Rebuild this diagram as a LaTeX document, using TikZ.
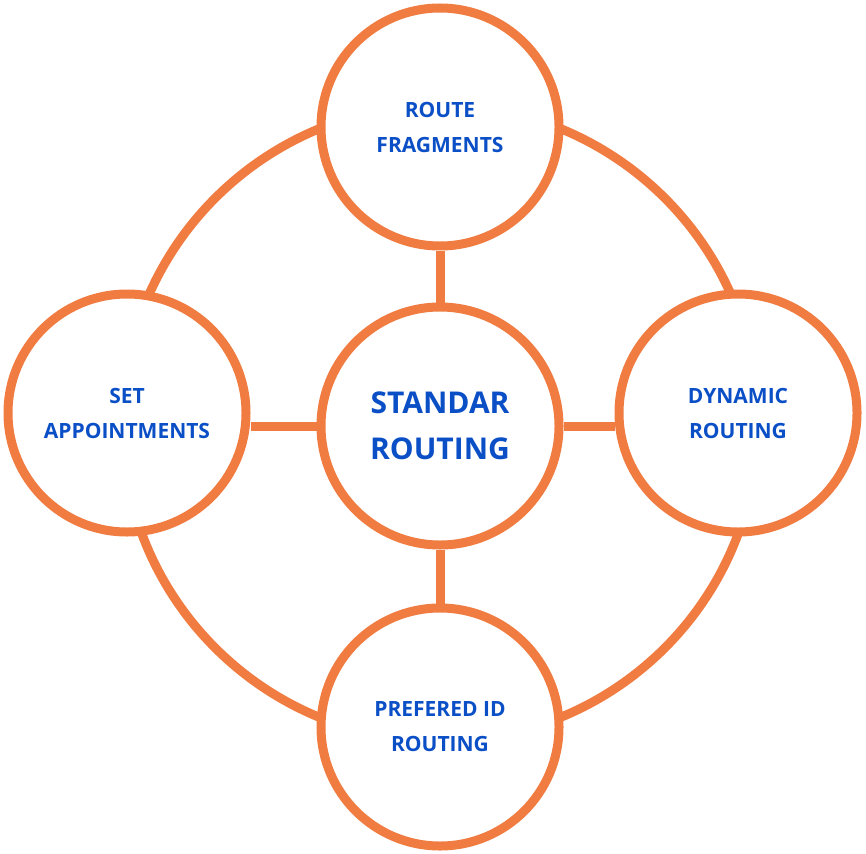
\documentclass[tikz,border=0pt]{standalone}
\usepackage{fontspec}
\setmainfont{Open Sans}
\definecolor{org}{HTML}{F07C42}
\definecolor{blu}{HTML}{0B4FC7}
\begin{document}
\begin{tikzpicture}[x=1pt,y=-1pt,
  circ/.style={circle,draw=org,line width=9pt,fill=white,minimum size=238pt,inner sep=0pt,align=center,text=blu,font=\fontsize{21}{35}\selectfont\bfseries},
  conn/.style={draw=org,line width=9pt}]
\useasboundingbox (0,0) rectangle (866,853);
\draw[org,line width=9pt] (440,423) circle (318);
\node[circ] (c) at (440,426) {};
\node[circ] (t) at (440,127) {ROUTE\\FRAGMENTS};
\node[circ] (b) at (440,727) {PREFERED ID\\ROUTING};
\node[circ] (l) at (127,413) {SET\\APPOINTMENTS};
\node[circ] (r) at (738,413) {DYNAMIC\\ROUTING};
\draw[conn] (c) -- (t); \draw[conn] (c) -- (b);
\draw[conn] (c.west) -- (l.east|-c.west); \draw[conn] (c.east) -- (r.west|-c.east);
\node[align=center,text=blu,font=\fontsize{30}{46}\selectfont\bfseries] at (c) {STANDAR\\ROUTING};
\end{tikzpicture}
\end{document}
